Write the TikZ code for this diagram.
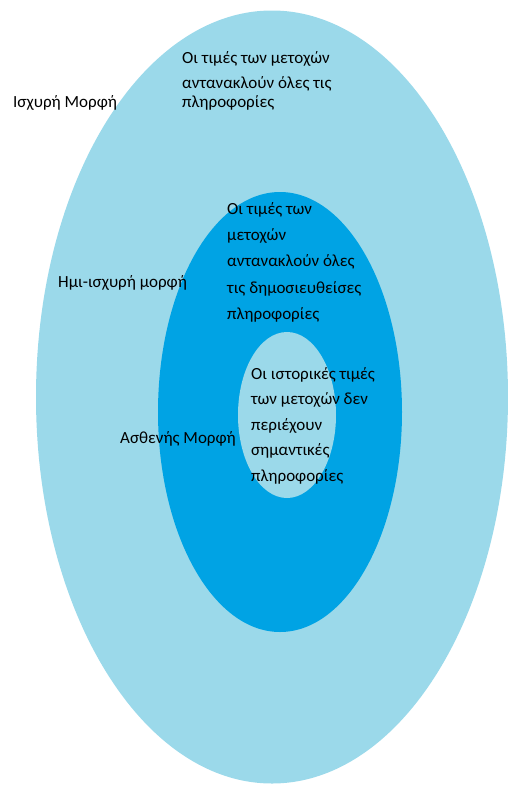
\documentclass[tikz,border=0pt]{standalone}
\usepackage{fontspec}
\setmainfont{Carlito}
\usetikzlibrary{shapes.geometric}
\definecolor{paleblue}{RGB}{155,217,234}
\definecolor{deepblue}{RGB}{0,163,228}

\begin{document}
\begin{tikzpicture}[x=1pt, y=-1pt,
  zone/.style={shape=ellipse, inner sep=0pt},
  tag/.style={anchor=base west, inner sep=0pt, font=\fontsize{17}{25.5}\selectfont, text=black},
  blurb/.style={tag, anchor=north west, align=left}]
\useasboundingbox (0,0) rectangle (507,785);
% three nested forms
\node[zone, fill=paleblue, minimum width=472pt, minimum height=773pt] (strong) at (272,397) {};
\node[zone, fill=deepblue, minimum width=244pt, minimum height=440pt] (semi) at (280,412) {};
\node[zone, fill=paleblue, minimum width=98pt, minimum height=166pt] (weak) at (287,415) {};
% names of the forms
\node[tag] (strongname) at (13,107) {Ισχυρή Μορφή};
\node[tag] (seminame) at (58,287) {Ημι-ισχυρή μορφή};
\node[tag] (weakname) at (120,443) {Ασθενής Μορφή};
% what each form says
\node[blurb] (strongtext) at (182,51) {Οι τιμές των μετοχών\\ αντανακλούν όλες τις\\[-7pt] πληροφορίες};
\node[blurb, font=\fontsize{17}{26.3}\selectfont] (semitext) at (227,202) {Οι τιμές των\\ μετοχών\\ αντανακλούν όλες\\ τις δημοσιευθείσες\\ πληροφορίες};
\node[blurb] (weaktext) at (251,367) {Οι ιστορικές τιμές\\ των μετοχών δεν\\ περιέχουν\\ σημαντικές\\ πληροφορίες};
\end{tikzpicture}
\end{document}
